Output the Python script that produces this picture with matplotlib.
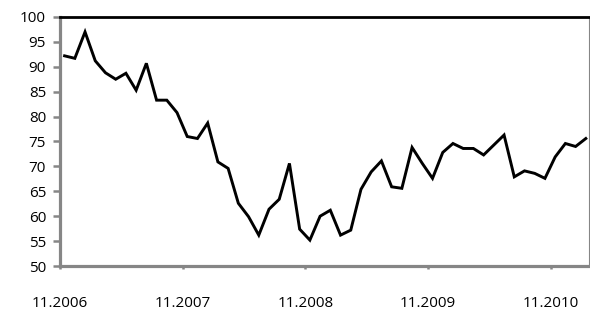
import numpy as np
import matplotlib
matplotlib.use("Agg")
from matplotlib import pyplot as plt

# monthly index values, 11.2006 .. 02.2011
values = [92.2, 91.7, 97.0, 91.2, 88.8, 87.5, 88.7, 85.3, 90.7, 83.3,
          83.3, 80.8, 76.0, 75.6, 78.7, 70.9, 69.6, 62.6, 59.9, 56.2,
          61.4, 63.4, 70.6, 57.4, 55.2, 60.0, 61.2, 56.2, 57.2, 65.4,
          68.9, 71.1, 65.9, 65.6, 73.8, 70.6, 67.6, 72.8, 74.6, 73.6,
          73.6, 72.3, 74.3, 76.3, 67.9, 69.1, 68.6, 67.6, 71.9, 74.6,
          74.0, 75.6]
tick_labels = ["11.2006", "11.2007", "11.2008", "11.2009", "11.2010"]
y_ticks = [50, 55, 60, 65, 70, 75, 80, 85, 90, 95, 100]

plt.rcParams['font.family'] = ['Open Sans', 'DejaVu Sans']
gray = "#868686"

months = np.arange(len(values)) + 0.45

fig = plt.figure(figsize=(5.9, 3.13), dpi=100)
ax = fig.add_axes([60/590, 47/313, 529/590, 249/313])

ax.plot(months, values, color="black", lw=2.1, solid_joinstyle="miter")

ax.set_xlim(0, 529/10.22)
ax.set_ylim(50, 100)
ax.set_yticks(y_ticks)
ax.set_xticks([0, 12, 24, 36, 48])
ax.set_xticklabels(tick_labels)

ax.spines["top"].set_color("black")
ax.spines["top"].set_linewidth(2.0)
ax.spines["left"].set_color(gray)
ax.spines["left"].set_linewidth(2.3)
ax.spines["bottom"].set_color(gray)
ax.spines["bottom"].set_linewidth(2.3)
ax.spines["right"].set_color(gray)
ax.spines["right"].set_linewidth(0.8)

ax.tick_params(axis="y", length=5, width=1.8, color=gray, pad=5, labelsize=11)
ax.tick_params(axis="x", length=2.5, width=1.8, color=gray, pad=19, labelsize=11)

fig.savefig("out.png", dpi=100)
